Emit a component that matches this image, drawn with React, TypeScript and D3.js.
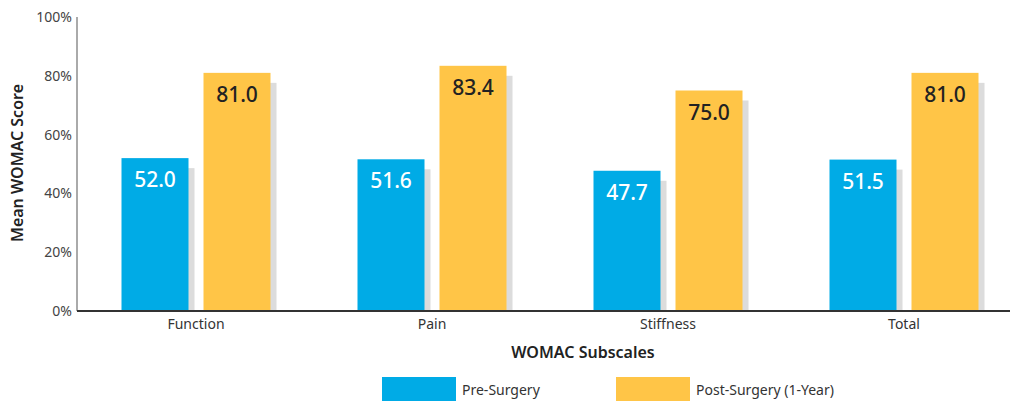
import React, { useEffect, useRef } from "react";
import * as d3 from "d3";

const width = 1010;
const height = 401;

const categories = ["Function", "Pain", "Stiffness", "Total"];
const preSurgery = [52.0, 51.6, 47.7, 51.5];
const postSurgery = [81.0, 83.4, 75.0, 81.0];
const yTicks = [0, 20, 40, 60, 80, 100];
const seriesNames = ["Pre-Surgery", "Post-Surgery (1-Year)"];
const colors = ["#00abe6", "#ffc547"];
const labelColors = ["#ffffff", "#222222"];

const font = "'Noto Sans', 'Open Sans', sans-serif";

const App = () => {
  const ref = useRef<SVGSVGElement | null>(null);

  useEffect(() => {
    const svg = d3.select(ref.current);
    svg.selectAll("*").remove();

    const x = d3.scaleBand().domain(categories).range([78, 1022]).paddingInner(0).paddingOuter(0);
    const y = d3.scaleLinear().domain([0, 100]).range([311, 17]);

    const barW = 67;
    const gap = 15;
    const inner = d3
      .scaleOrdinal<string, number>()
      .domain(seriesNames)
      .range([-(barW + gap / 2), gap / 2]);

    const rows = categories.map((c, i) => ({ cat: c, values: [preSurgery[i], postSurgery[i]] }));

    // y axis tick labels
    svg
      .append("g")
      .selectAll("text")
      .data(yTicks)
      .join("text")
      .attr("x", 72)
      .attr("y", (d) => y(d))
      .attr("dy", "0.35em")
      .attr("text-anchor", "end")
      .attr("font-family", font)
      .attr("font-size", 14)
      .attr("fill", "#444")
      .text((d) => `${d}%`);

    svg
      .append("line")
      .attr("x1", 77)
      .attr("x2", 77)
      .attr("y1", y(100))
      .attr("y2", y(0))
      .attr("stroke", "#aaaaaa")
      .attr("stroke-width", 2);

    const group = svg
      .append("g")
      .selectAll("g")
      .data(rows)
      .join("g")
      .attr("transform", (d) => `translate(${x(d.cat)! + x.bandwidth() / 2},0)`);

    const bars = group
      .selectAll("g")
      .data((d) => d.values.map((v, j) => ({ v, j })))
      .join("g");

    // shadow
    bars
      .append("rect")
      .attr("x", (d) => inner(seriesNames[d.j]) + 6)
      .attr("y", (d) => y(d.v) + 10)
      .attr("width", barW)
      .attr("height", (d) => y(0) - y(d.v) - 10)
      .attr("fill", "#dcdcdc");

    bars
      .append("rect")
      .attr("x", (d) => inner(seriesNames[d.j]))
      .attr("y", (d) => y(d.v))
      .attr("width", barW)
      .attr("height", (d) => y(0) - y(d.v))
      .attr("fill", (d) => colors[d.j]);

    bars
      .append("text")
      .attr("x", (d) => inner(seriesNames[d.j]) + barW / 2)
      .attr("y", (d) => y(d.v) + 29)
      .attr("text-anchor", "middle")
      .attr("font-family", font)
      .attr("font-size", 21)
      .attr("font-weight", 500)
      .attr("fill", (d) => labelColors[d.j])
      .text((d) => d.v.toFixed(1));

    // baseline
    svg
      .append("line")
      .attr("x1", 77)
      .attr("x2", width)
      .attr("y1", y(0))
      .attr("y2", y(0))
      .attr("stroke", "#333")
      .attr("stroke-width", 2);

    svg
      .append("g")
      .selectAll("text")
      .data(categories)
      .join("text")
      .attr("x", (d) => x(d)! + x.bandwidth() / 2)
      .attr("y", 329)
      .attr("text-anchor", "middle")
      .attr("font-family", font)
      .attr("font-size", 14)
      .attr("fill", "#333")
      .text((d) => d);

    svg
      .append("text")
      .attr("x", 583)
      .attr("y", 358)
      .attr("text-anchor", "middle")
      .attr("font-family", font)
      .attr("font-size", 16)
      .attr("font-weight", 600)
      .attr("fill", "#222")
      .text("WOMAC Subscales");

    svg
      .append("text")
      .attr("transform", "translate(23,163) rotate(-90)")
      .attr("text-anchor", "middle")
      .attr("font-family", font)
      .attr("font-size", 16)
      .attr("font-weight", 600)
      .attr("fill", "#222")
      .text("Mean WOMAC Score");

    // legend
    const legendX = [382, 616];
    const legend = svg
      .append("g")
      .selectAll("g")
      .data(seriesNames)
      .join("g")
      .attr("transform", (d, i) => `translate(${legendX[i]},377)`);
    legend
      .append("rect")
      .attr("width", 74)
      .attr("height", 24)
      .attr("fill", (d, i) => colors[i]);
    legend
      .append("text")
      .attr("x", 80)
      .attr("y", 18)
      .attr("font-family", font)
      .attr("font-size", 14)
      .attr("fill", "#333")
      .text((d) => d);
  }, []);

  return (
    <svg
      ref={ref}
      width={width}
      height={height}
      style={{ position: "absolute", left: 0, top: 0, background: "#fff" }}
    />
  );
};

export default App;
